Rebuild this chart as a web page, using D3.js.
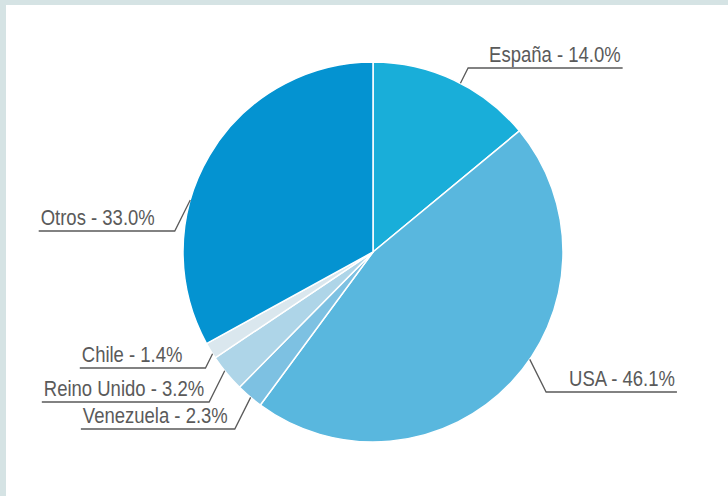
<!DOCTYPE html>
<html>
<head>
<meta charset="utf-8">
<script src="https://cdn.jsdelivr.net/npm/d3@7"></script>
<style>
  body { margin: 0; background: #fff; }
  svg { display: block; font-family: "Liberation Sans", Arial, sans-serif; }
</style>
</head>
<body>
<svg id="chart"></svg>
<script>
var countries = ['España', 'USA', 'Venezuela', 'Reino Unido', 'Chile', 'Otros'];
var shares = [14.0, 46.1, 2.3, 3.2, 1.4, 33.0];
var colors = ['#19aed9', '#59b7de', '#7dc1e2', '#aed5e8', '#dae7ee', '#0493d1'];

// where each leader leaves the pie (degrees clockwise from top), the row of its label
// and the gap between the knee of the leader and the text
var anchorAngles = [27.4, 124.4, 220.1, 231.3, 237.6, 285.9];
var labelRows = [68, 392, 429, 402, 368, 231];
var labelGaps = [21, 23, 7, 5, 23, 20];

var width = 728,
  height = 496;

var cx = 373, cy = 252, radius = 190;

var svg = d3.select('#chart')
  .attr('width', width)
  .attr('height', height);

// light frame on top and left
svg.append('rect')
  .attr('width', width).attr('height', height)
  .attr('fill', '#d5e3e4');
svg.append('rect')
  .attr('x', 6).attr('y', 5)
  .attr('width', width - 6).attr('height', height - 5)
  .attr('fill', '#fff');

var pie = d3.pie()
  .sort(null)
  .value(function(d) { return d; });

var arc = d3.arc()
  .innerRadius(0)
  .outerRadius(radius);

var g = svg.append('g')
  .attr('transform', 'translate(' + cx + ',' + cy + ')');

var arcs = pie(shares);

g.selectAll('.slice')
  .data(arcs)
  .enter().append('path')
  .attr('class', 'slice')
  .attr('d', arc)
  .attr('fill', function(d, i) { return colors[i]; })
  .attr('stroke', '#fff')
  .attr('stroke-width', 1.5);

var labels = svg.append('g');

arcs.forEach(function(d, i) {
  var a = anchorAngles[i] * Math.PI / 180;
  var sx = cx + radius * Math.sin(a);
  var sy = cy - radius * Math.cos(a);
  var right = Math.sin(a) > 0;
  var side = right ? 1 : -1;
  var ky = labelRows[i];
  var kx = sx + side * 0.5 * Math.abs(ky - sy);
  var gap = labelGaps[i];

  // the source type is a bit taller than it is wide
  var txt = labels.append('text')
    .attr('transform', 'translate(' + (kx + side * gap) + ',' + (ky - 6.5) + ') scale(1,1.18)')
    .attr('text-anchor', right ? 'start' : 'end')
    .attr('font-size', 18.5)
    .attr('fill', '#5a5a5a')
    .text(countries[i] + ' - ' + d3.format('.1f')(shares[i]) + '%');

  var w = txt.node().getComputedTextLength();
  var ex = kx + side * (gap + w + 2);

  labels.append('path')
    .attr('d', 'M' + sx + ',' + sy + 'L' + kx + ',' + ky + 'L' + ex + ',' + ky)
    .attr('fill', 'none')
    .attr('stroke', '#5a5a5a')
    .attr('stroke-width', 1.3);
});
</script>
</body>
</html>
